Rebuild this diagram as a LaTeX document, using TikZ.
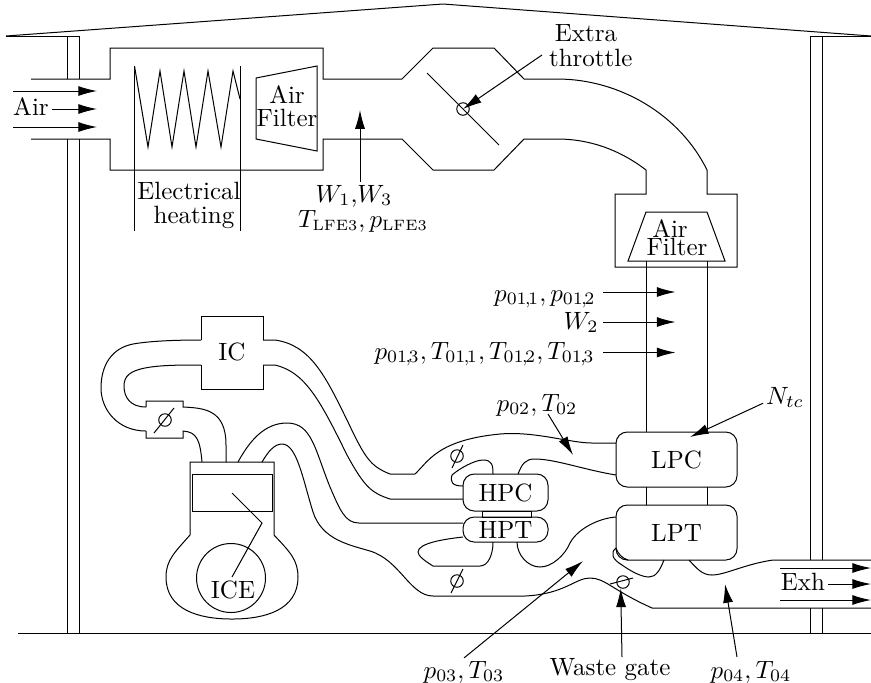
\documentclass[tikz,border=0pt]{standalone}
\usetikzlibrary{arrows.meta}
\newcommand{\subsep}{\mskip-1.5mu,\mskip-2.5mu}
\newcommand{\lfesub}{\mbox{\fontsize{6}{6}\selectfont LFE3}}
\tikzset{
  meas/.style={-{Latex[length=7.5pt,width=4pt]}},
  lbl/.style={anchor=base,inner sep=1pt},
  rlbl/.style={anchor=base east,inner sep=1pt},
  block/.style={align=center,inner sep=0pt},
  turbo/.style={draw,rounded corners=4.5pt,inner sep=0pt},
  gate/.style={draw,circle,inner sep=0pt,minimum size=5pt}
}
\begin{document}
\begin{tikzpicture}[x=.4pt,y=-.4pt]
  \useasboundingbox (0,0) rectangle (871,682);
  % building
  \draw (6,36) -- (443,4) -- (871,36);
  \draw (6,36) -- (79.5,36);
  \draw (810.5,36) -- (871,36);
  \draw (18,633) -- (871,633);
  \draw (67.5,79) -- (67.5,36) -- (79.5,36) -- (79.5,79);
  \draw (67.5,139) -- (67.5,633);
  \draw (79.5,139) -- (79.5,633);
  \draw (810.5,560) -- (810.5,36);
  \draw (822.5,560) -- (822.5,36);
  \draw (810.5,608) -- (810.5,633);
  \draw (822.5,608) -- (822.5,633);
  % inlet with heater and first filter
  \draw (31,79) -- (110,79) -- (110,48) -- (323,48) -- (323,79) -- (402,79) -- (433,48) -- (494,48) -- (524,79) -- (557,79)
    .. controls (620,79) and (680,115) .. (707,170) -- (707,194) -- (737,194) -- (737,267) -- (615,267) -- (615,194) -- (646,194) -- (646,170)
    .. controls (620,150) and (590,139) .. (557,139) -- (524,139) -- (494,170) -- (433,170) -- (402,139) -- (323,139) -- (323,170) -- (110,170) -- (110,139) -- (31,139);
  \draw (134.5,66) -- (134.5,231);
  \draw (240,66) -- (240,231);
  \draw (134.5,66) -- (148,147) -- (160,71) -- (172,147) -- (184,71) -- (196,147) -- (208,71) -- (221,147) -- (233,71) -- (240,99);
  \draw (256,78) -- (317,66) -- (317,151) -- (256,139) -- cycle;
  \node[block] (filterA) at (287,106) {Air\\[-2.6pt]Filter};
  \node[block] (heater) at (189,205) {Electrical\\[-2.4pt]\hspace*{4pt}heating};
  % extra throttle
  \draw (427,73) -- (499,145);
  \node[gate] (extra) at (463,109) {};
  % second filter and low pressure stage
  \draw (646,212) -- (707,212) -- (725,261) -- (628,261) -- cycle;
  \node[block] (filterB) at (677,237.5) {Air\hspace*{5.6pt}\\[-4.7pt]Filter};
  \draw (646,261) -- (646,432);
  \draw (707,261) -- (707,432);
  \draw (646,487) -- (646,505);
  \draw (707,487) -- (707,505);
  \node[turbo,minimum width=48.4pt,minimum height=22pt] (lpc) at (676.5,459.5) {LPC};
  \node[turbo,minimum width=48.4pt,minimum height=22pt] (lpt) at (676.5,532.5) {LPT};
  % high pressure stage
  \node[turbo,minimum width=34pt,minimum height=14.8pt] (hpc) at (505.5,492.5) {HPC};
  \node[turbo,minimum width=34pt,minimum height=10pt] (hpt) at (505.5,529.5) {HPT};
  \draw (482,511) rectangle (531,517);
  % intercooler
  \draw (201,340) -- (201,316) -- (263,316) -- (263,340);
  \draw (201,365) -- (201,389) -- (263,389) -- (263,365);
  \node (ic) at (232,352) {IC};
  \draw (201,340) .. controls (175,340) and (150,341) .. (133,344) .. controls (112,348) and (101,365) .. (101,388) .. controls (101,410) and (118,431) .. (146,431);
  \draw (201,365) .. controls (180,365) and (160,365) .. (145,368) .. controls (130,371) and (124,376) .. (124,386) .. controls (124,397) and (130,407) .. (146,407);
  % intake throttle
  \draw (146,407) -- (146,401) -- (183,401) -- (183,407) .. controls (205,408) and (226,410) .. (226,445) -- (226,462);
  \draw (146,431) -- (146,438) -- (183,438) -- (183,431) .. controls (197,432) and (200,440) .. (202,462);
  \node[gate] (thrIn) at (165,420) {};
  \draw (154,433) -- (174,408);
  % engine
  \draw (190,535) -- (190,462) -- (274,462) -- (274,535) .. controls (290,552) and (298,560) .. (298,577) .. controls (298,610) and (265,619) .. (232,619) .. controls (199,619) and (166,610) .. (166,577) .. controls (166,560) and (175,552) .. (190,535);
  \draw (192,474) rectangle (272,511);
  \node[draw,circle,inner sep=0pt,minimum size=27.6pt] (cyl) at (231,578) {};
  \draw (232,493) -- (262,523) -- (232,577);
  \node[lbl] (ice) at (233,598) {ICE};
  % pipes
  \draw (263,340) -- (275,340) .. controls (310,345) and (325,375) .. (347,420) .. controls (365,458) and (370,466) .. (390,474) -- (415,474)
    .. controls (428,462) and (437,440) .. (500,434) .. controls (535,431) and (570,443) .. (592,443) -- (616,443);
  \draw (263,365) -- (275,365) .. controls (305,372) and (320,400) .. (347,455) .. controls (365,488) and (372,493) .. (390,499) -- (463,499);
  \draw (238,462) .. controls (250,440) and (265,423) .. (287,423) .. controls (312,423) and (315,450) .. (330,487) .. controls (340,510) and (345,523) .. (359,523) -- (463,523);
  \draw (262,462) .. controls (268,452) and (274,444) .. (282,444) .. controls (297,444) and (303,480) .. (313,512) .. controls (322,540) and (350,545) .. (370,551) .. controls (400,560) and (410,596) .. (433,596) -- (525,596)
    .. controls (565,594) and (575,578) .. (590,578) .. controls (605,578) and (612,590) .. (652,608) -- (871,608);
  \draw (518,474) .. controls (522,464) and (525,459) .. (535,459) .. controls (555,459) and (585,470) .. (616,475);
  \draw (493,474) .. controls (493,465) and (492,460) .. (483,460) .. controls (475,460) and (460,468) .. (452,475) .. controls (450,482) and (452,486) .. (463,486);
  \draw (463,537) .. controls (445,539) and (418,543) .. (418,552) .. controls (418,556) and (425,561) .. (433,566) -- (480,566) .. controls (488,566) and (493,555) .. (493,542);
  \draw (517,542) .. controls (517,555) and (528,567) .. (540,567) .. controls (552,567) and (565,555) .. (570,543) .. controls (578,528) and (600,518) .. (616,517);
  \draw (616,548) .. controls (610,553) and (612,559) .. (622,565) .. controls (632,572) and (642,577) .. (649,577) .. controls (656,577) and (660,570) .. (664,560);
  \draw (616,548) .. controls (618,554) and (622,558) .. (628,560);
  \draw (689,560) .. controls (698,570) and (703,575) .. (712,575) .. controls (725,575) and (745,564) .. (773,560) -- (871,560);
  \node[gate] (thrA) at (457,456) {};
  \draw (452,468) -- (463,445);
  \node[gate] (thrB) at (457,581) {};
  \draw (451,593) -- (463,569);
  \node[gate] (waste) at (623,582) {};
  \draw (610,584) -- (633,578);
  % measuring points
  \coordinate (tipAa) at (97,91);
  \coordinate (tipAb) at (97,109);
  \coordinate (tipAc) at (97,127);
  \coordinate (tailAa) at (13,91);
  \coordinate (tailAc) at (13,127);
  \node[lbl] (air) at (31,115) {Air};
  \draw[meas] (tailAa) -- (tipAa);
  \draw[meas] (air.east |- tipAb) -- (tipAb);
  \draw[meas] (tailAc) -- (tipAc);
  \coordinate (tipW) at (360,110);
  \node[lbl] (flowA) at (354,202) {$W_1$,$W_3$};
  \node[lbl] (lfe) at (363,227) {$T_{\lfesub},p_{\lfesub}$};
  \draw[meas] (tipW |- flowA.north) -- (tipW);
  \node[block] (xthr) at (586,45.5) {Extra\\[-2pt]\hspace*{3.8pt}throttle};
  \coordinate (tailX) at (542,55);
  \draw[meas] (tailX) -- (extra.center);
  \coordinate (tipPa) at (675.5,292);
  \coordinate (tipPb) at (675.5,322);
  \coordinate (tipPc) at (675.5,352.5);
  \coordinate (tailPa) at (603,292);
  \coordinate (tailPb) at (603,322);
  \coordinate (tailPc) at (603,352.5);
  \node[rlbl] (pa) at (598.5,301) {$p_{01\subsep1},p_{01\subsep2}$};
  \node[rlbl] (pb) at (601.5,329) {$W_2$};
  \node[rlbl] (pc) at (597.5,359) {$p_{01\subsep3},T_{01\subsep1},T_{01\subsep2},T_{01\subsep3}$};
  \draw[meas] (tailPa) -- (tipPa);
  \draw[meas] (tailPb) -- (tipPb);
  \draw[meas] (tailPc) -- (tipPc);
  \node[lbl] (ptb) at (537,411) {$p_{02},T_{02}$};
  \coordinate (tailB) at (548,414);
  \coordinate (tipB) at (573,455);
  \draw[meas] (tailB) -- (tipB);
  \node[lbl] (nt) at (785,404) {$N_{tc}$};
  \coordinate (tipN) at (690,437);
  \draw[meas] (nt.195) -- (tipN);
  \node[lbl] (ptc) at (464,678) {$p_{03},T_{03}$};
  \coordinate (tipC) at (583,561);
  \draw[meas] (ptc.north) -- (tipC);
  \node[lbl] (wg) at (610,675) {Waste gate};
  \coordinate (tailG) at (622,657);
  \draw[meas] (tailG) -- (waste.250);
  \node[lbl] (ptd) at (751,678) {$p_{04},T_{04}$};
  \coordinate (tailD) at (737,657);
  \coordinate (tipD) at (725,584);
  \draw[meas] (tailD) -- (tipD);
  \coordinate (tipEa) at (871,568);
  \coordinate (tipEb) at (871,584);
  \coordinate (tipEc) at (871,600);
  \coordinate (tailEa) at (780,568);
  \coordinate (tailEc) at (780,600);
  \node[lbl] (exh) at (803,590) {Exh};
  \draw[meas] (tailEa) -- (tipEa);
  \draw[meas] (exh.east |- tipEb) -- (tipEb);
  \draw[meas] (tailEc) -- (tipEc);
\end{tikzpicture}
\end{document}
